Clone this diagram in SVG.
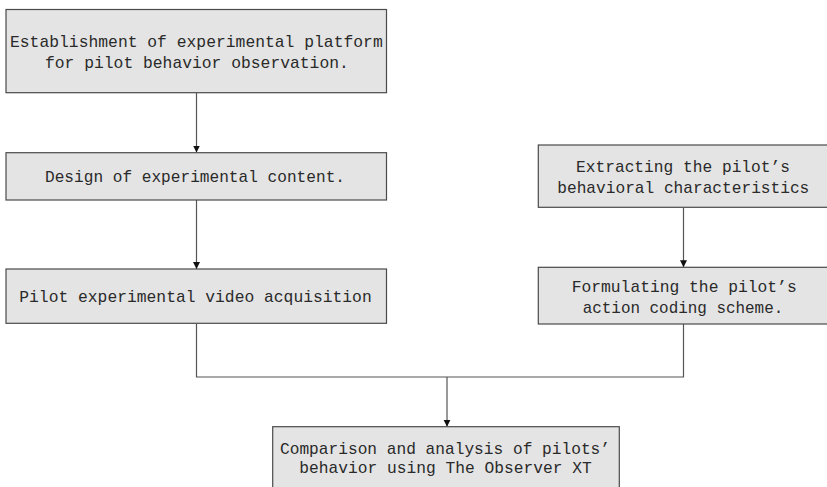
<svg xmlns="http://www.w3.org/2000/svg" width="827" height="487" viewBox="0 0 827 487">
<style>
.box{fill:#e4e4e4;stroke:#4a4a4a;stroke-width:1.2}
.t{font-family:"Liberation Mono","DejaVu Sans Mono",monospace;font-size:17px;fill:#2a2a2a}
.c{fill:none;stroke:#555;stroke-width:1.2}
</style>
<defs>
<marker id="ah" markerWidth="8" markerHeight="8" refX="7" refY="4" orient="auto" markerUnits="userSpaceOnUse">
<path d="M0,0.5 L7,4 L0,7.5 Z" fill="#111"/>
</marker>
</defs>
<rect width="827" height="487" fill="#fff"/>
<g id="connectors">
<line class="c" x1="196.5" y1="93" x2="196.5" y2="152.5" marker-end="url(#ah)"/>
<line class="c" x1="196.5" y1="200" x2="196.5" y2="269" marker-end="url(#ah)"/>
<line class="c" x1="683.5" y1="207.5" x2="683.5" y2="267.3" marker-end="url(#ah)"/>
<polyline class="c" points="196.5,323.5 196.5,377 683.5,377 683.5,324"/>
<line class="c" x1="447" y1="377" x2="447" y2="426.7" marker-end="url(#ah)"/>
</g>
<g id="n1">
<rect class="box" x="6" y="9.5" width="380.5" height="83.2"/>
<text class="t" x="10" y="46.5" textLength="372.7" lengthAdjust="spacingAndGlyphs">Establishment of experimental platform</text>
<text class="t" x="45" y="67.5" textLength="303.8" lengthAdjust="spacingAndGlyphs">for pilot behavior observation.</text>
</g>
<g id="n2">
<rect class="box" x="6" y="152.7" width="380.5" height="47.3"/>
<text class="t" x="45" y="181.5" textLength="300" lengthAdjust="spacingAndGlyphs">Design of experimental content.</text>
</g>
<g id="n3">
<rect class="box" x="6" y="269" width="380.5" height="54.3"/>
<text class="t" x="19.3" y="301.5" textLength="352.4" lengthAdjust="spacingAndGlyphs">Pilot experimental video acquisition</text>
</g>
<g id="n4">
<rect class="box" x="538.3" y="145" width="295" height="62.3"/>
<text class="t" x="576" y="171.5" textLength="214" lengthAdjust="spacingAndGlyphs">Extracting the pilot’s</text>
<text class="t" x="557.3" y="192.7" textLength="252" lengthAdjust="spacingAndGlyphs">behavioral characteristics</text>
</g>
<g id="n5">
<rect class="box" x="538.3" y="267.3" width="295" height="56.7"/>
<text class="t" x="571.7" y="292.3" textLength="225" lengthAdjust="spacingAndGlyphs">Formulating the pilot’s</text>
<text class="t" x="582.7" y="312.7" textLength="200.6" lengthAdjust="spacingAndGlyphs">action coding scheme.</text>
</g>
<g id="n6">
<rect class="box" x="272.7" y="426.7" width="346.6" height="70"/>
<text class="t" x="280" y="454" textLength="330" lengthAdjust="spacingAndGlyphs">Comparison and analysis of pilots’</text>
<text class="t" x="299.3" y="473.3" textLength="292.4" lengthAdjust="spacingAndGlyphs">behavior using The Observer XT</text>
</g>
</svg>
